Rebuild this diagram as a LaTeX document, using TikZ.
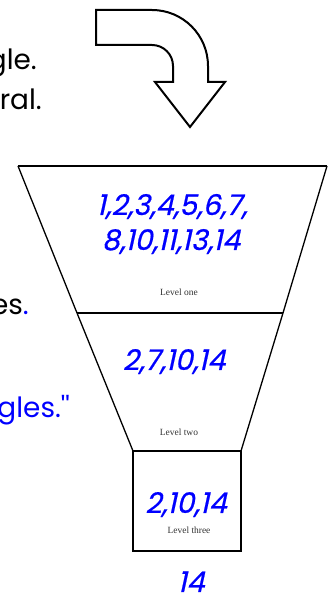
\documentclass[tikz,border=0pt]{standalone}
\usepackage{fontspec}
\setmainfont{Liberation Serif}
\newfontfamily\comic{Poppins}
\newfontfamily\comicsl[FakeSlant=0.22,FakeBold=0.6]{Poppins}
\definecolor{numblue}{RGB}{0,0,255}
\definecolor{lvlgray}{RGB}{50,50,50}
\begin{document}
\begin{tikzpicture}[x=1bp,y=1bp,
  nums/.style={anchor=base,text=numblue,font=\comicsl\fontsize{28.5}{28.5}\selectfont,inner sep=0pt},
  lvl/.style={anchor=base,text=lvlgray,font=\fontsize{9.5}{9.5}\selectfont,inner sep=0pt},
  side/.style={anchor=base east,font=\comic\fontsize{28}{28}\selectfont,inner sep=0pt},
  thinedge/.style={line width=1.3bp},
  thickedge/.style={line width=2.2bp}]
\useasboundingbox (0,0) rectangle (330,600);
% funnel corners
\coordinate (A) at (18,434);
\coordinate (B) at (327,434);
\coordinate (C) at (77,287);
\coordinate (D) at (283,287);
\coordinate (E) at (133,149);
\coordinate (F) at (241,149);
\coordinate (G) at (133,49);
\coordinate (H) at (241,49);
% curved arrow
\draw[line width=2bp,line join=miter] (96,590) -- (152,590) arc[start angle=90,end angle=0,radius=56]
  -- (208,518) -- (225,518) -- (190,473) -- (155,518) -- (173,518) -- (173,534)
  arc[start angle=0,end angle=90,radius=21] -- (96,555) -- cycle;
% funnel
\draw[thickedge] (A) -- (B);
\draw[thinedge] (A) -- (C) -- (E);
\draw[thinedge] (B) -- (D) -- (F);
\draw[thickedge] (C) -- (D);
\draw[line width=2bp] (E) rectangle (H);
% numbers
\node[nums] (n1) at (172,385) {1,2,3,4,5,6,7,};
\node[nums] (n2) at (171,350) {8,10,11,13,14};
\node[lvl] (l1) at (179,304) {Level one};
\node[nums] (n3) at (174,230) {2,7,10,14};
\node[lvl] (l2) at (179,164) {Level two};
\node[nums] (n4) at (186,87) {2,10,14};
\node[lvl] (l3) at (189,66) {Level three};
\node[nums] (n5) at (191,8) {14};
% clipped side texts
\node[side] (s1) at (37,530) {gle.};
\node[side] (s2) at (42,490) {ral.};
\node[side] (s3) at (29,285) {es\textcolor{numblue}{.}};
\node[side,text=numblue] (s4) at (70,182) {gles.''};
\end{tikzpicture}
\end{document}
